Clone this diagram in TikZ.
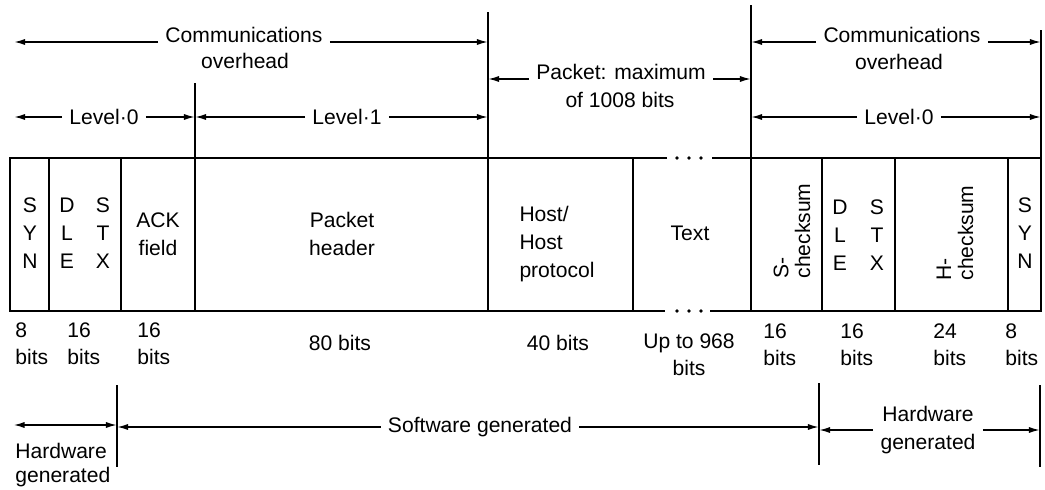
\documentclass[tikz,border=0pt]{standalone}
\usepackage{fontspec}
\setmainfont{Liberation Sans}
\usetikzlibrary{arrows.meta}
\begin{document}
\begin{tikzpicture}[
	x=0.02cm, y=-0.02cm,
	lbl/.style={ font=\fontsize{12}{15.8}\selectfont, inner xsep=4pt, inner ysep=0pt },
	cell/.style={ lbl, align=center },
	vcell/.style={ font=\fontsize{12}{12.5}\selectfont, inner sep=0pt, align=left, rotate=90 },
	bitlbl/.style={ lbl, inner sep=0pt, align=left, anchor=north west },
	dimline/.style={ -{Latex[length=6pt,width=3.5pt]}, line width=0.7pt, shorten >=0.3pt },
	dimboth/.style={ {Latex[length=6pt,width=3.5pt]}-{Latex[length=6pt,width=3.5pt]}, line width=0.7pt, shorten >=0.3pt },
	divider/.style={ line width=0.8pt },
	boxline/.style={ line width=1pt }
]
\useasboundingbox (0,0) rectangle (1045,490);

\coordinate (top) at (0,158);
\coordinate (lf) at (14,0);
\coordinate (lv) at (195,83);
\coordinate (pk) at (488,12);
\coordinate (ck) at (751,5);
\coordinate (rt) at (1041,30);
\coordinate (hs) at (117,385);
\coordinate (sh) at (819,383);
\coordinate (rb) at (1040,385);
\coordinate (hwl) at (14,425);

\draw[divider] (lv) -- (lv |- top);
\draw[divider] (pk) -- (pk |- top);
\draw[divider] (ck) -- (ck |- top);
\draw[divider] (rt) -- (rt |- top);
\draw[divider] (hs) -- ++(0,82);
\draw[divider] (sh) -- ++(0,82);
\draw[divider] (rb) -- ++(0,82);

\draw[boxline] (667,158) -- (10,158) -- (10,311) -- (665,311);
\draw[boxline] (712,158) -- (1041,158) -- (1041,311) -- (710,311);
\foreach \x in {49,121,195,488,633,751,822,895,1008}
  \draw[boxline] (\x,158) -- (\x,311);
\foreach \x in {677,689,701} {
  \fill (\x,158) circle[radius=1.1pt];
  \fill (\x,311) circle[radius=1.1pt];
}

\node at (244,42) (comL) [lbl, anchor=base] {Communications};
\node at (245,68) (ovhL) [lbl, anchor=base] {overhead};
\node at (104,117) (lev0L) [lbl] {Level·0};
\node at (347,117) (lev1) [lbl] {Level·1};
\node at (621,79) (pkt) [lbl, anchor=base] {Packet: maximum};
\node at (620,107) (pktb) [lbl, anchor=base] {of 1008 bits};
\node at (902,42) (comR) [lbl, anchor=base] {Communications};
\node at (899,69) (ovhR) [lbl, anchor=base] {overhead};
\node at (899,117) (lev0R) [lbl] {Level·0};

\draw[dimline] (comL.base west) -- (comL.base west -| lf);
\draw[dimline] (comL.base east) -- (comL.base east -| pk);
\draw[dimline] (lev0L.west) -- (lev0L.west -| lf);
\draw[dimline] (lev0L.east) -- (lev0L.east -| lv);
\draw[dimline] (lev1.west) -- (lev1.west -| lv);
\draw[dimline] (lev1.east) -- (lev1.east -| pk);
\draw[dimline] (pkt.base west) -- (pkt.base west -| pk);
\draw[dimline] (pkt.base east) -- (pkt.base east -| ck);
\draw[dimline] (comR.base west) -- (comR.base west -| ck);
\draw[dimline] (comR.base east) -- (comR.base east -| rt);
\draw[dimline] (lev0R.west) -- (lev0R.west -| ck);
\draw[dimline] (lev0R.east) -- (lev0R.east -| rt);

\node at (30,233) (syn1) [cell] {S\\Y\\N};
\node at (67,233) (dle1) [cell] {D\\L\\E};
\node at (103,233) (stx1) [cell] {S\\T\\X};
\node at (158,234) (ack) [cell] {ACK\\field};
\node at (342,234) (phdr) [cell] {Packet\\header};
\node at (557,244) (host) [cell, align=left] {Host/\\Host\\protocol};
\node at (690,233) (txt) [cell] {Text};
\node at (792,231) (schk) [vcell] {S-\\checksum};
\node at (840,235) (dle2) [cell] {D\\L\\E};
\node at (877,235) (stx2) [cell] {S\\T\\X};
\node at (955,233) (hchk) [vcell] {H-\\checksum};
\node at (1025,233) (syn2) [cell] {S\\Y\\N};

\node at (15,322) (bsyn1) [bitlbl] {8\\bits};
\node at (67,322) (bdle1) [bitlbl] {16\\bits};
\node at (137,322) (back) [bitlbl] {16\\bits};
\node at (340,350) (bphdr) [lbl, anchor=base] {80 bits};
\node at (558,350) (bhost) [lbl, anchor=base] {40 bits};
\node at (689,333) (btxt) [lbl, inner sep=0pt, align=center, anchor=north] {Up to 968\\bits};
\node at (763,323) (bschk) [bitlbl] {16\\bits};
\node at (840,323) (bdle2) [bitlbl] {16\\bits};
\node at (933,323) (bhchk) [bitlbl] {24\\bits};
\node at (1005,323) (bsyn2) [bitlbl] {8\\bits};

\node at (15,443) (hwL) [bitlbl] {Hardware\\[-2.5pt]generated};
\node at (480,427) (sw) [lbl] {Software generated};
\node at (928,430) (hwR) [cell] {Hardware\\generated};

\draw[dimboth] (hwl) -- (hwl -| hs);
\draw[dimline] (sw.west) -- (sw.west -| hs);
\draw[dimline] (sw.east) -- (sw.east -| sh);
\draw[dimline] (hwR.west) -- (hwR.west -| sh);
\draw[dimline] (hwR.east) -- (hwR.east -| rb);

\end{tikzpicture}
\end{document}
